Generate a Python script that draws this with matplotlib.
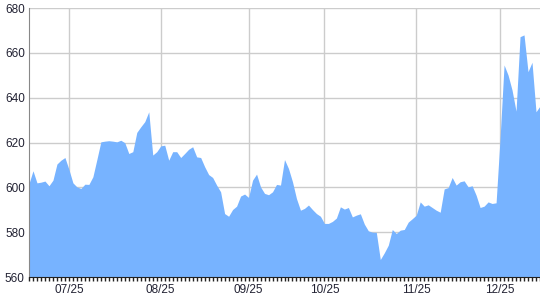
import matplotlib
matplotlib.use("Agg")
import matplotlib.pyplot as plt
from matplotlib.ticker import FixedLocator, MultipleLocator

values = [
    601.7, 607.4, 602.0, 602.3, 602.8, 600.7, 603.2, 610.4, 612.1, 613.3,
    608.0, 602.0, 600.2, 599.5, 601.4, 601.3, 604.7, 612.4, 620.3, 620.6,
    620.8, 620.6, 620.3, 621.0, 619.9, 615.1, 615.9, 624.5, 627.0, 629.3,
    633.7, 614.4, 615.9, 618.5, 618.8, 612.1, 615.9, 615.9, 613.3, 615.1,
    617.0, 618.1, 613.6, 613.3, 609.2, 605.7, 604.4, 601.0, 598.0, 588.3,
    587.1, 590.1, 591.6, 596.1, 597.0, 595.5, 603.2, 605.9, 600.2, 597.3,
    596.7, 598.0, 601.3, 601.0, 612.4, 608.4, 602.5, 595.0, 589.8, 590.6,
    592.1, 590.1, 588.3, 587.1, 583.9, 583.9, 584.8, 586.3, 591.3, 590.3,
    591.0, 586.8, 587.6, 588.2, 583.6, 580.6, 580.0, 579.9, 567.8, 570.8,
    574.2, 581.2, 579.4, 580.9, 581.2, 584.5, 586.0, 587.6, 593.5, 591.6,
    592.2, 591.0, 589.8, 588.9, 599.3, 599.9, 604.4, 601.0, 602.5, 602.9,
    600.2, 600.7, 596.5, 591.0, 591.6, 593.5, 592.8, 593.1, 622.0, 654.6,
    650.1, 643.4, 634.0, 667.2, 668.0, 651.6, 655.8, 633.7, 636.3,
]
tick_index = [10, 33, 55, 74, 97, 118]
tick_labels = ["07/25", "08/25", "09/25", "10/25", "11/25", "12/25"]
y_ticks = [560, 580, 600, 620, 640, 660, 680]

plt.rcParams['font.family'] = ['Liberation Sans', 'DejaVu Sans']

fig = plt.figure(figsize=(5.4, 3.0), dpi=100)
ax = fig.add_axes([29/540, 1-277/300, 511/540, 269/300])

x = list(range(len(values)))
ax.fill_between(x, 560, values, color='#77b3ff', linewidth=0, zorder=2)

ax.set_xlim(0, len(values) - 1)
ax.set_ylim(560, 680)

ax.xaxis.set_major_locator(FixedLocator(tick_index))
ax.set_xticklabels(tick_labels)
ax.xaxis.set_minor_locator(MultipleLocator(1))
ax.set_yticks(y_ticks)

ax.grid(True, which='major', color='#cccccc', linewidth=1, zorder=1)
ax.set_axisbelow(True)

for s in ['top', 'right']:
    ax.spines[s].set_visible(False)
ax.spines['left'].set_color('#888888')
ax.spines['bottom'].set_color('#222222')
ax.spines['left'].set_zorder(3)
ax.spines['bottom'].set_zorder(3)

ax.tick_params(axis='x', which='both', direction='out', length=3, width=1,
               color='#222222', labelsize=8.5, labelcolor='#222233', pad=2)
ax.tick_params(axis='y', which='both', length=0, labelsize=8.5,
               labelcolor='#222233', pad=3)

fig.savefig('out.png', dpi=100)
